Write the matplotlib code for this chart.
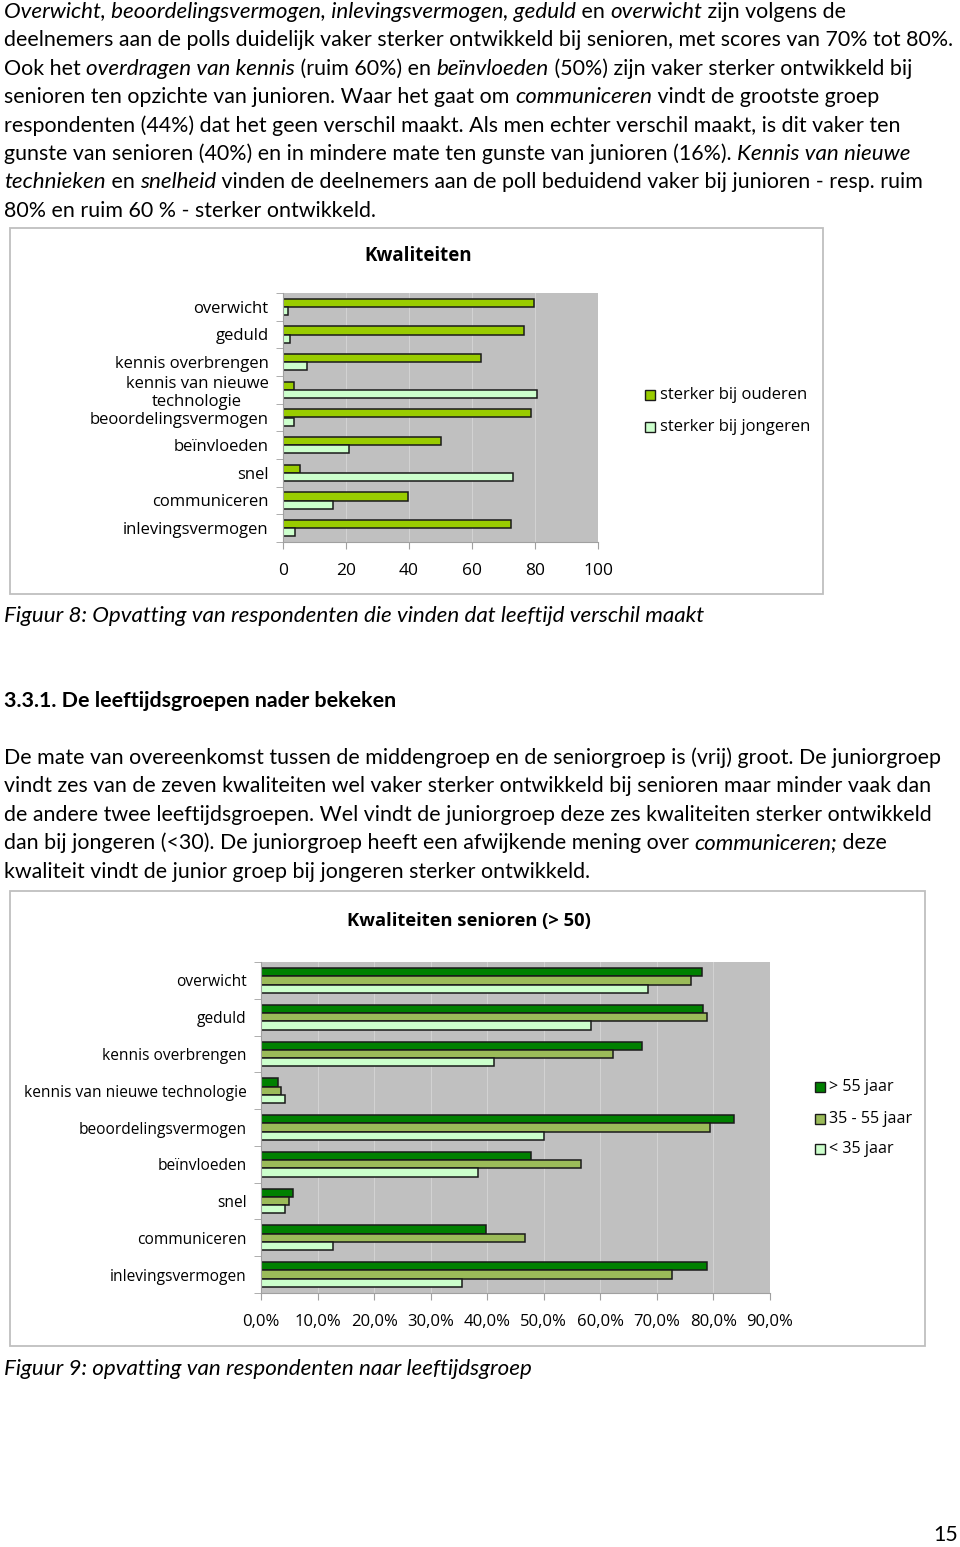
"""Recreate page 15: two horizontal bar charts with surrounding report text."""
import matplotlib
matplotlib.use("Agg")
import matplotlib.pyplot as plt
from matplotlib.patches import Rectangle
from matplotlib.ticker import FixedLocator, NullFormatter
import numpy as np

BODY = "Lato"
CHART = "Open Sans"

# ---- data -------------------------------------------------------------
cats1 = ["overwicht", "geduld", "kennis overbrengen", "kennis van nieuwe\ntechnologie",
         "beoordelingsvermogen", "beïnvloeden", "snel", "communiceren", "inlevingsvermogen"]
ouderen = [79.7, 76.4, 62.7, 3.5, 78.7, 50.2, 5.3, 39.7, 72.4]
jongeren = [1.6, 2.2, 7.7, 80.6, 3.5, 20.8, 73.1, 16.0, 3.9]
ticks1 = [0, 20, 40, 60, 80, 100]

cats2 = ["overwicht", "geduld", "kennis overbrengen", "kennis van nieuwe technologie",
         "beoordelingsvermogen", "beïnvloeden", "snel", "communiceren", "inlevingsvermogen"]
boven55 = [78.0, 78.2, 67.3, 3.0, 83.7, 47.7, 5.6, 39.7, 78.9]
tussen = [76.0, 78.9, 62.2, 3.6, 79.4, 56.6, 5.0, 46.7, 72.6]
onder35 = [68.5, 58.4, 41.2, 4.2, 50.0, 38.4, 4.2, 12.8, 35.6]
ticks2 = [0, 10, 20, 30, 40, 50, 60, 70, 80, 90]
ticklabels2 = ["0,0%", "10,0%", "20,0%", "30,0%", "40,0%", "50,0%",
               "60,0%", "70,0%", "80,0%", "90,0%"]

# ---- page -------------------------------------------------------------
W, H = 960, 1547
fig = plt.figure(figsize=(W / 100, H / 100), dpi=100)
page = fig.add_axes([0, 0, 1, 1])
page.set_xlim(0, W)
page.set_ylim(H, 0)
page.axis("off")
renderer = fig.canvas.get_renderer()

BODY_SIZE = 15.4
ITAL_SIZE = 16.1


def rich(x, y, parts, size=BODY_SIZE, weight="normal"):
    """Draw a line made of (text, italic) parts, left to right."""
    for txt, it in parts:
        t = page.text(x, y, txt, fontsize=ITAL_SIZE if it else size, family=BODY,
                      va="baseline", style="italic" if it else "normal", weight=weight)
        x += t.get_window_extent(renderer).width


N, I = False, True
para1 = [
    [("Overwicht, beoordelingsvermogen, inlevingsvermogen, geduld", I), (" en ", N),
     ("overwicht", I), (" zijn volgens de", N)],
    [("deelnemers aan de polls duidelijk vaker sterker ontwikkeld bij senioren, met scores van 70% tot 80%.", N)],
    [("Ook het ", N), ("overdragen van kennis", I), (" (ruim 60%) en ", N), ("beïnvloeden", I),
     (" (50%) zijn vaker sterker ontwikkeld bij", N)],
    [("senioren ten opzichte van junioren. Waar het gaat om ", N), ("communiceren", I),
     (" vindt de grootste groep", N)],
    [("respondenten (44%) dat het geen verschil maakt. Als men echter verschil maakt, is dit vaker ten", N)],
    [("gunste van senioren (40%) en in mindere mate ten gunste van junioren (16%). ", N),
     ("Kennis van nieuwe", I)],
    [("technieken", I), (" en ", N), ("snelheid", I),
     (" vinden de deelnemers aan de poll beduidend vaker bij junioren - resp. ruim", N)],
    [("80% en ruim 60 % - sterker ontwikkeld.", N)],
]
for k, line in enumerate(para1):
    rich(4, 18 + k * 28.4, line)

para2 = [
    [("De mate van overeenkomst tussen de middengroep en de seniorgroep is (vrij) groot. De juniorgroep", N)],
    [("vindt zes van de zeven kwaliteiten wel vaker sterker ontwikkeld bij senioren maar minder vaak dan", N)],
    [("de andere twee leeftijdsgroepen. Wel vindt de juniorgroep deze zes kwaliteiten sterker ontwikkeld", N)],
    [("dan bij jongeren (<30). De juniorgroep heeft een afwijkende mening over ", N),
     ("communiceren;", I), (" deze", N)],
    [("kwaliteit vindt de junior groep bij jongeren sterker ontwikkeld.", N)],
]
for k, line in enumerate(para2):
    rich(4, 764 + k * 28.4, line)

rich(4, 707, [("3.3.1. De leeftijdsgroepen nader bekeken", N)], weight="bold")
rich(4, 622, [("Figuur 8: Opvatting van respondenten die vinden dat leeftijd verschil maakt", I)])
rich(4, 1375, [("Figuur 9: opvatting van respondenten naar leeftijdsgroep", I)])
page.text(958, 1541, "15", fontsize=BODY_SIZE, family=BODY, ha="right", va="baseline")

# chart frames
page.add_patch(Rectangle((10, 228), 813, 366, fill=False, edgecolor="#BFBFBF", lw=1.3))
page.add_patch(Rectangle((10, 891), 915, 455, fill=False, edgecolor="#BFBFBF", lw=1.3))
page.text(418, 256, "Kwaliteiten", fontsize=13.5, family=CHART, weight="bold",
          ha="center", va="center")
page.text(469, 921, "Kwaliteiten senioren (> 50)", fontsize=13.2, family=CHART,
          weight="bold", ha="center", va="center")


def px_axes(x0, y0, x1, y1):
    return fig.add_axes([x0 / W, 1 - y1 / H, (x1 - x0) / W, (y1 - y0) / H])


def style_axes(ax, n, ticks, labels, cats, size, tsize):
    ax.set_facecolor("#C0C0C0")
    ax.set_ylim(n - 0.5, -0.5)
    ax.set_xlim(ticks[0], ticks[-1])
    ax.set_xticks(ticks)
    ax.set_xticklabels(labels, fontsize=tsize, family=CHART)
    ax.set_yticks(np.arange(n))
    ax.set_yticklabels(cats, fontsize=size, family=CHART, multialignment="center",
                       linespacing=1.15)
    ax.yaxis.set_minor_locator(FixedLocator(np.arange(n + 1) - 0.5))
    ax.yaxis.set_minor_formatter(NullFormatter())
    ax.tick_params(axis="y", which="major", length=0, pad=10.5)
    ax.tick_params(axis="y", which="minor", length=5, color="#A0A0A0")
    ax.tick_params(axis="x", length=5, color="#A0A0A0", pad=10)
    ax.grid(axis="x", color="#D2D2D2", lw=0.8)
    ax.set_axisbelow(True)
    for s in ["top", "right"]:
        ax.spines[s].set_visible(False)
    for s in ["left", "bottom"]:
        ax.spines[s].set_color("#A0A0A0")


# ---- chart 1 -------------------------------------------------------------
ax1 = px_axes(283, 293, 598, 542)
y1 = np.arange(len(cats1))
h1 = 0.29
ax1.barh(y1 - h1 / 2, ouderen, height=h1, color="#99CC00", edgecolor="#1A1A1A", lw=1.1)
ax1.barh(y1 + h1 / 2, jongeren, height=h1, color="#CCFFCC", edgecolor="#1A1A1A", lw=1.1)
style_axes(ax1, len(cats1), ticks1, [str(t) for t in ticks1], cats1, 12, 12.5)

for yy, col, lab in [(395, "#99CC00", "sterker bij ouderen"),
                     (427, "#CCFFCC", "sterker bij jongeren")]:
    page.add_patch(Rectangle((645, yy - 5), 10, 10, facecolor=col, edgecolor="#1A1A1A", lw=1))
    page.text(660, yy, lab, fontsize=12, family=CHART, va="center")

# ---- chart 2 -------------------------------------------------------------
ax2 = px_axes(261, 962, 770, 1293)
y2 = np.arange(len(cats2))
h2 = 0.225
ax2.barh(y2 - h2, boven55, height=h2, color="#008000", edgecolor="#1A1A1A", lw=1.1)
ax2.barh(y2, tussen, height=h2, color="#9BBB59", edgecolor="#1A1A1A", lw=1.1)
ax2.barh(y2 + h2, onder35, height=h2, color="#CCFFCC", edgecolor="#1A1A1A", lw=1.1)
style_axes(ax2, len(cats2), ticks2, ticklabels2, cats2, 11.2, 12)

for yy, col, lab in [(1087, "#008000", "> 55 jaar"),
                     (1119, "#9BBB59", "35 - 55 jaar"),
                     (1149, "#CCFFCC", "< 35 jaar")]:
    page.add_patch(Rectangle((815, yy - 5), 10, 10, facecolor=col, edgecolor="#1A1A1A", lw=1))
    page.text(829, yy, lab, fontsize=11.6, family=CHART, va="center")

fig.savefig("out.png", dpi=100)
